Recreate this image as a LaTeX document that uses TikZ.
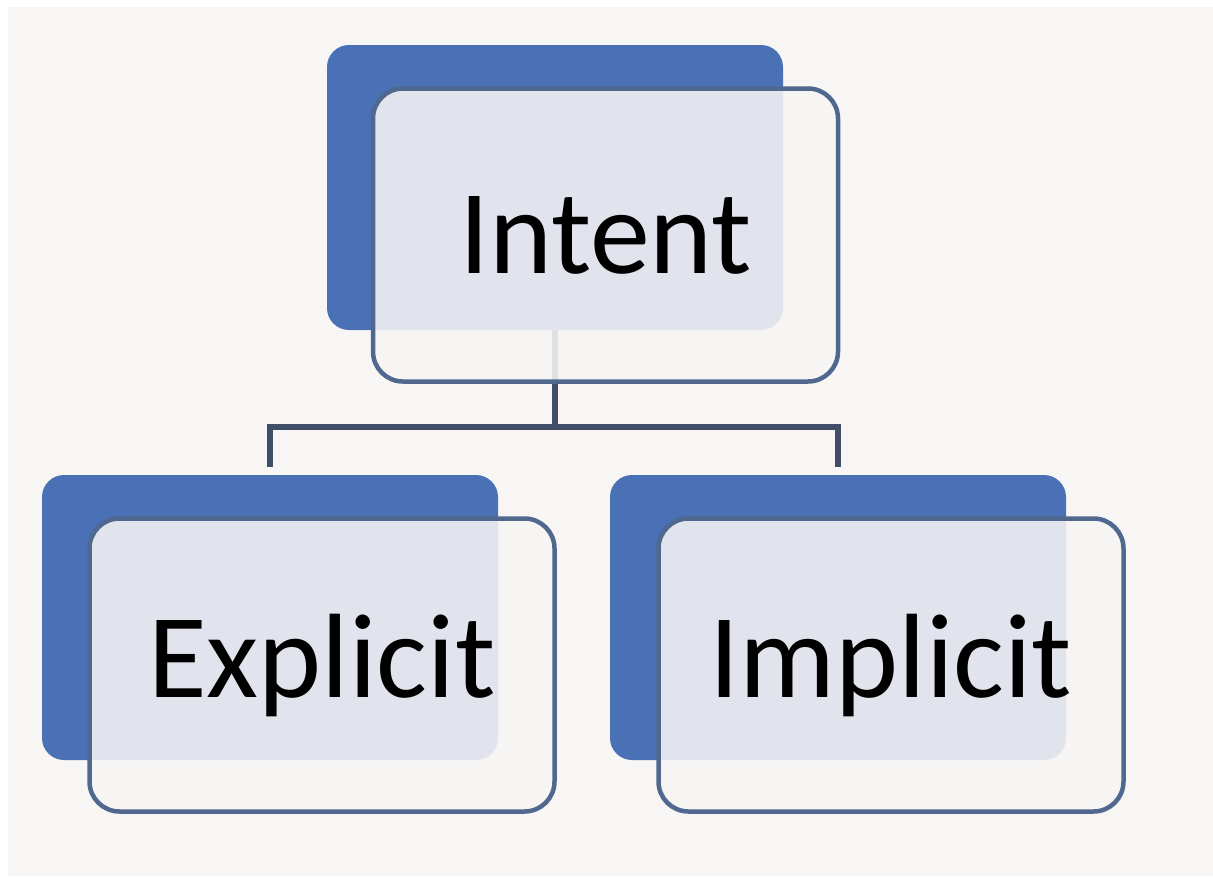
\documentclass[tikz,border=0pt]{standalone}
\usepackage{fontspec}
\setmainfont{Carlito}
\definecolor{bgc}{RGB}{247,246,244}
\definecolor{bluebox}{RGB}{74,113,181}
\definecolor{edgec}{RGB}{80,104,142}
\definecolor{linec}{RGB}{64,78,104}
\definecolor{frontfill}{RGB}{247,245,244}
\tikzset{
  backbox/.style={fill=bluebox, rounded corners=22pt, minimum width=456pt, minimum height=285pt, inner sep=0pt, draw=none},
  frontbox/.style={draw=edgec, line width=4.5pt, fill=frontfill, fill opacity=0.88, text opacity=1, rounded corners=30pt, minimum width=465pt, minimum height=293pt, font=\fontsize{120}{140}\selectfont, inner sep=0pt},
  conn/.style={draw=linec, line width=5.5pt}
}
\begin{document}
\begin{tikzpicture}[x=1pt,y=-1pt]
  \useasboundingbox (0,0) rectangle (1213,876);
  \fill[white] (0,0) rectangle (1213,876);
  \fill[bgc] (8,7) rectangle (1213,876);
  % back boxes
  \node[backbox] (intB) at (555,187.5) {};
  \node[backbox] (expB) at (270,617.5) {};
  \node[backbox] (impB) at (838,617.5) {};
  % connectors
  \coordinate (bus) at (555,427);
  \draw[conn] (intB.south) -- (bus);
  \draw[conn, shorten <=8pt, shorten >=8pt] (expB.north) |- (bus) -| (impB.north);
  % front boxes
  \node[frontbox] (intF) at (605.5,235) {Intent};
  \node[frontbox] (expF) at (322,665) {Explicit};
  \node[frontbox] (impF) at (891,665) {Implicit};
\end{tikzpicture}
\end{document}
